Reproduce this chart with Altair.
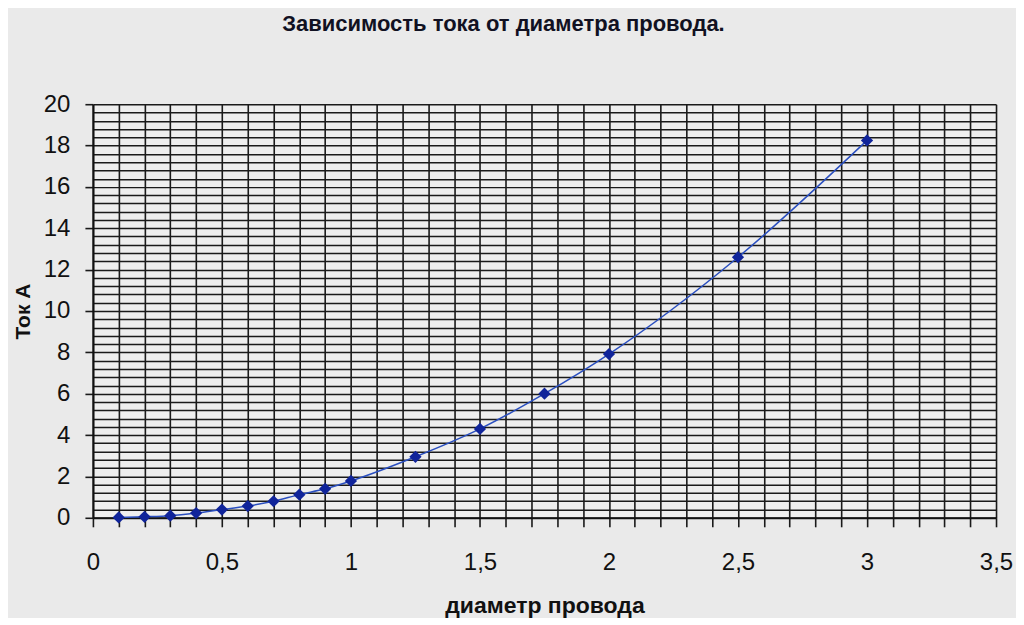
import altair as alt
import pandas as pd

# data
diameter = [0.1, 0.2, 0.3, 0.4, 0.5, 0.6, 0.7, 0.8, 0.9, 1.0, 1.25, 1.5, 1.75, 2.0, 2.5, 3.0]
current = [0.02, 0.05, 0.1, 0.23, 0.4, 0.57, 0.8, 1.12, 1.4, 1.78, 2.95, 4.3, 6.0, 7.92, 12.6, 18.25]

title_text = "Зависимость тока от диаметра провода."
x_title = "диаметр провода"
y_title = "Ток А"

df = pd.DataFrame({"d": diameter, "i": current})

x_grid = [round(i * 0.1, 1) for i in range(36)]
y_grid = [round(i * 0.4, 1) for i in range(51)]

FONT = "Liberation Sans"

x_enc = alt.X(
    "d:Q",
    scale=alt.Scale(domain=[0, 3.5], nice=False, zero=False),
    axis=alt.Axis(
        values=x_grid,
        title=x_title,
        grid=True,
        gridColor="#1a1a1a",
        gridWidth=1.6,
        domainColor="#111111",
        domainWidth=2,
        tickColor="#1a1a1a",
        tickWidth=1.6,
        tickSize=9,
        labelExpr="abs(datum.value*2 - round(datum.value*2)) < 0.01 ? replace(toString(datum.value), '.', ',') : ''",
        labelOverlap=False,
        labelFlush=False,
        labelPadding=24,
        labelFont=FONT,
        labelFontSize=24,
        labelColor="#111111",
        titleFont=FONT,
        titleFontSize=23,
        titleFontWeight="bold",
        titleColor="#111111",
        titlePadding=20,
    ),
)

y_enc = alt.Y(
    "i:Q",
    scale=alt.Scale(domain=[0, 20], nice=False, zero=True),
    axis=alt.Axis(
        values=y_grid,
        title=y_title,
        grid=True,
        gridColor="#1a1a1a",
        gridWidth=1.5,
        domainColor="#111111",
        domainWidth=2,
        tickColor="#1a1a1a",
        tickWidth=1.6,
        tickSize=8,
        tickOpacity={"condition": {"test": "abs(datum.value % 2) < 0.01", "value": 1}, "value": 0},
        labelExpr="abs(datum.value % 2) < 0.01 ? toString(datum.value) : ''",
        labelOverlap=False,
        labelPadding=15,
        labelFont=FONT,
        labelFontSize=24,
        labelColor="#111111",
        titleFont=FONT,
        titleFontSize=21,
        titleFontWeight="bold",
        titleColor="#111111",
        titlePadding=10,
    ),
)

base = alt.Chart(df)

line = base.mark_line(color="#2a4fc0", strokeWidth=1.5, interpolate="monotone").encode(x=x_enc, y=y_enc)
points = base.mark_point(shape="diamond", filled=True, size=150, color="#10249a", opacity=1).encode(x=x_enc, y=y_enc)

chart = (
    alt.layer(line, points)
    .properties(
        width=904,
        height=414,
        autosize=alt.AutoSizeParams(type="none"),
        padding={"left": 85, "top": 96, "right": 20, "bottom": 100},
        background="#eaeaea",
        title=alt.TitleParams(
            text=title_text,
            font=FONT,
            fontSize=22,
            fontWeight="bold",
            color="#111122",
            anchor="middle",
            dx=-41,
            offset=56,
        ),
    )
    .configure_view(stroke=None, fill="#eeeeee")
)

chart.save("out.html", embed_options={"renderer": "svg", "actions": False})
